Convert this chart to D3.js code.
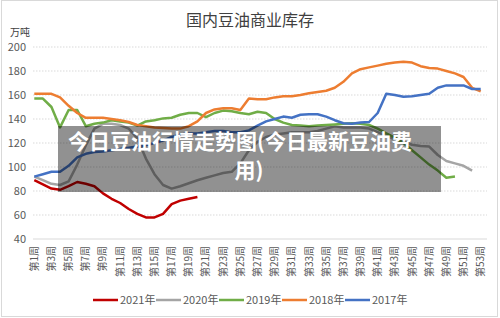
<html>
<head>
<meta charset="utf-8">
<script src="https://d3js.org/d3.v7.min.js"></script>
<style>
  body { margin: 0; background: #fff; }
  text { font-family: "Noto Sans CJK SC", "Noto Sans", sans-serif; }
</style>
</head>
<body>
<script type="text/javascript">

var weeks = ["第1周","第2周","第3周","第4周","第5周","第6周","第7周","第8周","第9周","第10周",
  "第11周","第12周","第13周","第14周","第15周","第16周","第17周","第18周","第19周","第20周",
  "第21周","第22周","第23周","第24周","第25周","第26周","第27周","第28周","第29周","第30周",
  "第31周","第32周","第33周","第34周","第35周","第36周","第37周","第38周","第39周","第40周",
  "第41周","第42周","第43周","第44周","第45周","第46周","第47周","第48周","第49周","第50周",
  "第51周","第52周","第53周"];

// labels shown on the x axis (every other week)
var weekTicks = ["第1周","第3周","第5周","第7周","第9周","第11周","第13周","第15周","第17周",
  "第19周","第21周","第23周","第25周","第27周","第29周","第31周","第33周","第35周","第37周",
  "第39周","第41周","第43周","第45周","第47周","第49周","第51周","第53周"];

var yTicks = [40, 60, 80, 100, 120, 140, 160, 180, 200];

var years = ["2021年", "2020年", "2019年", "2018年", "2017年"];

var s2021 = [89, 85.5, 82, 81, 84, 87.5, 86, 84, 78, 73.5, 70, 65, 61, 58, 58, 61, 69, 72, 73.5, 75];

var s2020 = [92, 89, 86, 85, 88, 102, 118, 132, 136, 136, 135, 132, 124, 107, 94, 85, 82, 84, 86.5, 89,
  91, 93, 95, 96, 103, 114, 121, 125, 127, 128, 129, 129, 129, 130, 132, 134, 133, 133, 133, 132,
  129, 126, 123, 121, 118.5, 117.5, 117, 110, 105, 103, 101, 97];

var s2019 = [157, 157, 150, 133, 147.5, 147.5, 134, 136, 137, 139, 138, 137, 134.5, 138, 139, 140.5, 141, 143.5, 145, 145,
  141.5, 145, 147, 146.5, 145, 144, 146, 145, 140, 137, 135, 134.5, 134, 134.5, 135, 135.5, 136, 136.5, 136, 135,
  132, 128, 124.5, 120, 114, 108, 102, 97, 91, 92];

var s2018 = [161, 161, 161, 158, 151, 145, 141, 141, 141, 140, 139, 137.5, 135, 134, 133, 132.5, 132, 132, 134, 138,
  145, 148, 149, 149, 147.5, 157, 156.5, 156.5, 158, 159, 159, 160, 161.5, 162.5, 163.5, 166, 171, 178, 181.5, 183,
  184.5, 186, 187, 187.8, 187, 184, 182.5, 182, 180, 178, 175, 166, 163];

var s2017 = [92, 94, 96, 96, 101, 108, 111, 112.5, 113, 114, 115, 116, 117, 118, 120, 122, 125, 127, 128, 128,
  129, 130, 130, 129, 129, 130.5, 134.5, 138, 140, 142, 141, 143.5, 144, 144, 142, 139, 136.5, 136, 137, 137.5,
  145, 161, 160, 158.5, 159, 160, 161, 166, 168, 168, 168, 165, 165];

var colors = ["#c00000", "#a5a5a5", "#70ad47", "#ed7d31", "#4472c4"];

var series = [s2021, s2020, s2019, s2018, s2017].map(function(vals, i) {
  return { name: years[i], color: colors[i], values: vals.map(function(v, j) { return { week: weeks[j], value: v }; }) };
});

var width = 500, height = 318;

var svg = d3.select("body").append("svg")
    .attr("width", width)
    .attr("height", height);

// frame
svg.append("rect")
  .attr("x", 1.5).attr("y", 0.5)
  .attr("width", 496).attr("height", 316)
  .attr("fill", "#fff")
  .attr("stroke", "#d9d9d9");

var x = d3.scalePoint()
  .domain(weeks)
  .range([30, 485])
  .padding(0.5);

var y = d3.scaleLinear()
  .domain([40, 200])
  .range([239, 47]);

// title
svg.append("text")
  .attr("x", 250).attr("y", 26)
  .attr("text-anchor", "middle")
  .attr("font-size", 16)
  .attr("fill", "#404040")
  .text("国内豆油商业库存");

svg.append("text")
  .attr("x", 10).attr("y", 36)
  .attr("font-size", 10)
  .attr("fill", "#404040")
  .text("万吨");

// grid
svg.append("g").selectAll("line")
  .data(yTicks.slice(1))
  .enter().append("line")
  .attr("x1", 33).attr("x2", 487)
  .attr("y1", function(d) { return y(d); })
  .attr("y2", function(d) { return y(d); })
  .attr("stroke", "#d9d9d9")
  .attr("stroke-dasharray", "1.5,1.5");

svg.append("line")
  .attr("x1", 33).attr("x2", 487)
  .attr("y1", y(40)).attr("y2", y(40))
  .attr("stroke", "#d9d9d9");

// y labels
svg.append("g").selectAll("text")
  .data(yTicks)
  .enter().append("text")
  .attr("x", 26)
  .attr("y", function(d) { return y(d); })
  .attr("dy", "0.35em")
  .attr("text-anchor", "end")
  .attr("font-size", 11)
  .attr("fill", "#595959")
  .text(function(d) { return d; });

// x labels
svg.append("g").selectAll("text")
  .data(weekTicks)
  .enter().append("text")
  .attr("transform", function(d) { return "translate(" + x(d) + ",246) rotate(-90)"; })
  .attr("dy", "0.35em")
  .attr("text-anchor", "end")
  .attr("font-size", 10)
  .attr("fill", "#595959")
  .text(function(d) { return d; });

var line = d3.line()
  .x(function(d) { return x(d.week); })
  .y(function(d) { return y(d.value); });

svg.append("g").selectAll("path")
  .data(series)
  .enter().append("path")
  .attr("d", function(d) { return line(d.values); })
  .attr("fill", "none")
  .attr("stroke", function(d) { return d.color; })
  .attr("stroke-width", 2.5)
  .attr("stroke-linejoin", "round");

// legend
var legend = svg.append("g").selectAll("g")
  .data(series)
  .enter().append("g")
  .attr("transform", function(d, i) { return "translate(" + (93 + i * 63) + ",300)"; });

legend.append("line")
  .attr("x1", 0).attr("x2", 25)
  .attr("stroke", function(d) { return d.color; })
  .attr("stroke-width", 2.5);

legend.append("text")
  .attr("x", 27)
  .attr("dy", "0.35em")
  .attr("font-size", 11)
  .attr("fill", "#595959")
  .text(function(d) { return d.name; });

// overlay banner
svg.append("rect")
  .attr("x", 58).attr("y", 126)
  .attr("width", 383).attr("height", 66)
  .attr("fill", "rgba(0,0,0,0.43)");

svg.append("text")
  .attr("x", 240).attr("y", 149)
  .attr("text-anchor", "middle")
  .attr("font-size", 21)
  .attr("font-weight", "bold")
  .attr("fill", "#fff")
  .text("今日豆油行情走势图(今日最新豆油费");

svg.append("text")
  .attr("x", 249).attr("y", 178)
  .attr("text-anchor", "middle")
  .attr("font-size", 21)
  .attr("font-weight", "bold")
  .attr("fill", "#fff")
  .text("用)");

</script>
</body>
</html>
